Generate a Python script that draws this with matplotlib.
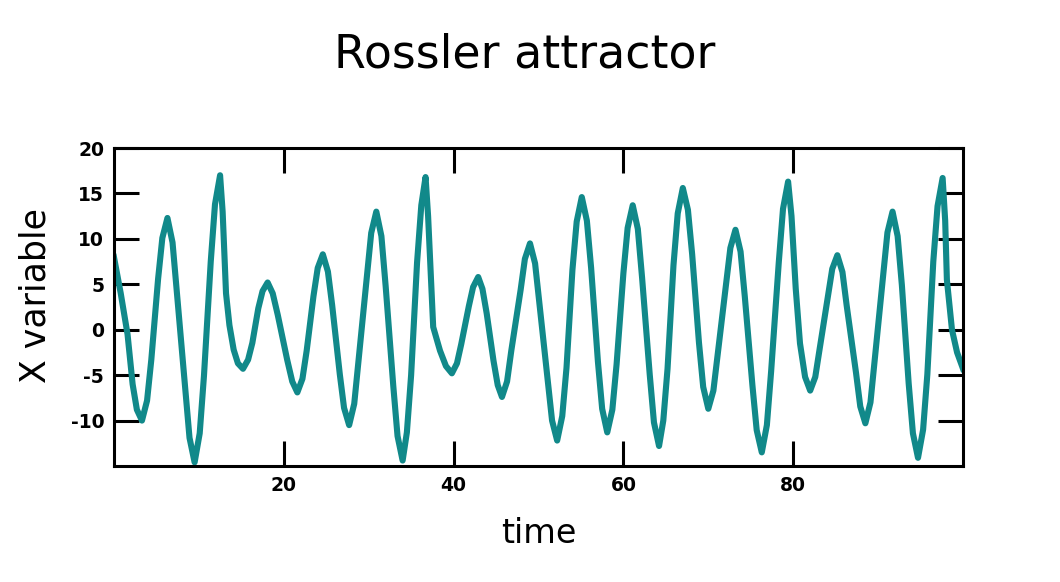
import matplotlib
matplotlib.use("Agg")
import matplotlib.pyplot as plt

# values (time, X variable)
time = [
    0.0, 0.8, 1.6, 2.2, 2.7,
    3.3, 3.9, 4.4, 5.2, 5.7,
    6.3, 6.9, 7.4, 8.4, 8.9,
    9.5, 10.1, 10.6, 11.4, 11.9,
    12.5, 12.8, 13.2, 13.6, 14.1, 14.6,
    15.2, 15.8, 16.3, 17.0, 17.5,
    18.1, 18.7, 19.3, 20.4, 21.0,
    21.6, 22.2, 22.7, 23.5, 24.0,
    24.6, 25.2, 25.7, 26.6, 27.1,
    27.7, 28.3, 28.8, 29.8, 30.3,
    30.9, 31.5, 32.0, 32.9, 33.4,
    34.0, 34.5, 35.0, 35.7, 36.2,
    36.7, 37.0, 37.6, 38.4, 39.1,
    39.8, 40.4, 40.9, 41.8, 42.3,
    42.9, 43.4, 43.9, 44.7, 45.2,
    45.7, 46.3, 46.8, 47.9, 48.4,
    49.0, 49.6, 50.1, 51.1, 51.6,
    52.2, 52.8, 53.3, 54.0, 54.5,
    55.1, 55.7, 56.2, 57.0, 57.5,
    58.1, 58.7, 59.2, 60.0, 60.5,
    61.1, 61.7, 62.2, 63.1, 63.6,
    64.2, 64.7, 65.2, 65.9, 66.4,
    67.0, 67.6, 68.1, 68.9, 69.4,
    70.0, 70.6, 71.1, 72.1, 72.6,
    73.2, 73.8, 74.3, 75.2, 75.7,
    76.3, 76.9, 77.4, 78.3, 78.8,
    79.4, 79.8, 80.3, 80.8, 81.4,
    82.0, 82.6, 83.1, 84.1, 84.6,
    85.2, 85.8, 86.3, 87.4, 87.9,
    88.5, 89.1, 89.6, 90.6, 91.1,
    91.7, 92.3, 92.8, 93.6, 94.1,
    94.7, 95.3, 95.8, 96.5, 97.0,
    97.6, 97.9, 98.1, 98.7, 99.3, 100.0,
]
x_var = [
    8.0, 4.0, -0.5, -6.0, -8.8,
    -10.0, -7.8, -3.3, 5.6, 10.1,
    12.3, 9.6, 4.2, -6.5, -11.9,
    -14.6, -11.4, -5.1, 7.5, 13.8,
    17.0, 13.0, 4.0, 0.5, -2.2, -3.7,
    -4.3, -3.3, -1.45, 2.35, 4.25,
    5.2, 4.0, 1.6, -3.3, -5.7,
    -6.9, -5.4, -2.3, 3.7, 6.8,
    8.3, 6.4, 2.7, -4.9, -8.6,
    -10.5, -8.15, -3.45, 5.95, 10.65,
    13.0, 10.3, 4.8, -6.2, -11.7,
    -14.4, -11.3, -5.0, 7.4, 13.7,
    16.8, 12.5, 0.3, -2.3, -4.0,
    -4.8, -3.7, -1.6, 2.6, 4.7,
    5.8, 4.5, 1.8, -3.4, -6.1,
    -7.4, -5.7, -2.3, 4.4, 7.8,
    9.5, 7.3, 3.0, -5.7, -10.0,
    -12.2, -9.5, -4.2, 6.6, 11.9,
    14.6, 12.0, 6.8, -3.5, -8.7,
    -11.3, -8.8, -3.8, 6.2, 11.2,
    13.7, 11.1, 5.75, -4.9, -10.2,
    -12.8, -10.0, -4.3, 7.1, 12.8,
    15.6, 13.2, 8.3, -1.4, -6.3,
    -8.7, -6.7, -2.8, 5.1, 9.0,
    11.0, 8.6, 3.65, -6.15, -11.05,
    -13.5, -10.5, -4.6, 7.4, 13.3,
    16.3, 12.5, 4.5, -1.5, -5.2,
    -6.7, -5.2, -2.2, 3.7, 6.7,
    8.2, 6.35, 2.65, -4.75, -8.45,
    -10.3, -8.0, -3.3, 6.0, 10.7,
    13.0, 10.3, 4.9, -5.9, -11.4,
    -14.1, -11.0, -4.9, 7.5, 13.6,
    16.7, 12.0, 5.5, 0.0, -2.5, -4.3,
]
x_ticks = [20, 40, 60, 80]
y_ticks = [-10, -5, 0, 5, 10, 15, 20]

plt.rcParams['font.family'] = ['DejaVu Sans']
plt.rcParams['axes.unicode_minus'] = False

fig = plt.figure(figsize=(10.6, 5.82), dpi=100)
ax = fig.add_axes([0.1075, 0.1993, 0.801, 0.5464])

ax.plot(time, x_var, color='#11898a', linewidth=4.4, solid_joinstyle='round')

ax.set_xlim(0, 100)
ax.set_ylim(-15, 20)
ax.set_xticks(x_ticks)
ax.set_yticks(y_ticks)
ax.tick_params(direction='in', length=18, width=2.2, top=True, right=True,
               labelsize=13.5, pad=7)
for lab in ax.get_xticklabels() + ax.get_yticklabels():
    lab.set_fontweight('bold')
for sp in ax.spines.values():
    sp.set_linewidth(2.2)

ax.set_xlabel('time', fontsize=24, labelpad=16)
ax.set_ylabel('X variable', fontsize=25)
ax.yaxis.set_label_coords(-0.072, 0.535)
fig.text(0.495, 0.905, 'Rossler attractor', fontsize=33, ha='center', va='center')

fig.savefig('out.png', dpi=100)
